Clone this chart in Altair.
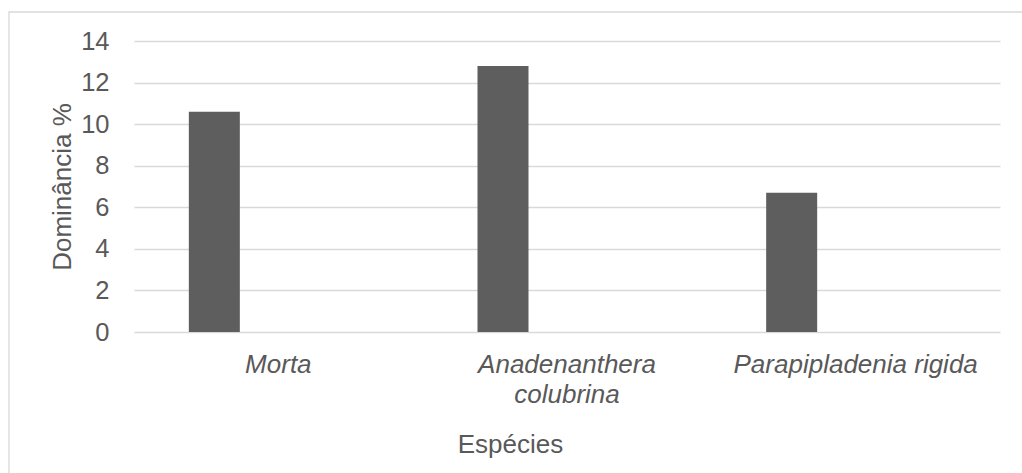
import altair as alt
import pandas as pd

# Dominance (%) per species
species = ["Morta", "Anadenanthera colubrina", "Parapipladenia rigida"]
dominance = [10.6, 12.8, 6.7]
y_ticks = [0, 2, 4, 6, 8, 10, 12, 14]

# Long species names are broken over two lines on the axis
wrapped = {"Anadenanthera colubrina": ["Anadenanthera", "colubrina"]}

df = pd.DataFrame({"Espécies": species, "Dominância": dominance})

TEXT = "#595959"
GRID = "#d9d9d9"
FONT = "Liberation Sans"

label_expr = " : ".join(
    [f"datum.value == '{k}' ? {v!r}" for k, v in wrapped.items()] + ["datum.label"]
)

bars = alt.Chart(df).mark_bar(
    color="#5e5e5e", width=51, xOffset=-64
).encode(
    x=alt.X(
        "Espécies:N",
        sort=species,
        scale=alt.Scale(paddingInner=0, paddingOuter=0),
        axis=alt.Axis(
            title="Espécies",
            labelAngle=0,
            labelFontStyle="italic",
            labelFontSize=26,
            labelFont=FONT,
            labelColor=TEXT,
            labelPadding=19.5,
            labelLineHeight=29.5,
            labelLimit=0,
            labelExpr=label_expr,
            ticks=False,
            domain=False,
            grid=False,
            titleFont=FONT,
            titleFontSize=26,
            titleFontWeight="normal",
            titleColor=TEXT,
            titleX=376,
            titleY=120,
            titleAlign="center",
            titleBaseline="alphabetic",
        ),
    ),
    y=alt.Y(
        "Dominância:Q",
        scale=alt.Scale(domain=[0, 14], nice=False),
        axis=alt.Axis(
            title="Dominância %",
            values=y_ticks,
            labelFont=FONT,
            labelFontSize=25.5,
            labelColor=TEXT,
            labelPadding=25,
            ticks=False,
            domain=False,
            grid=True,
            gridColor=GRID,
            gridWidth=1.3,
            titleFont=FONT,
            titleFontSize=26,
            titleFontWeight="normal",
            titleColor=TEXT,
            titleX=-64,
            titleY=145.5,
            titleAngle=270,
            titleAlign="center",
            titleBaseline="alphabetic",
        ),
    ),
)

# Light outer border of the chart area
frame = alt.Chart(alt.Data(values=[{}])).mark_rect(
    fill=None, stroke=GRID, strokeWidth=1.3
).encode(
    x=alt.value(-125), x2=alt.value(900),
    y=alt.value(-29), y2=alt.value(450),
)

chart = alt.layer(frame, bars).properties(
    width=866,
    height=291,
    autosize=alt.AutoSizeParams(type="none"),
    padding={"left": 134, "top": 41, "right": 22, "bottom": 141},
    background="white",
).configure_view(stroke=None)

chart.save("out.html", embed_options={"renderer": "svg", "actions": False})
